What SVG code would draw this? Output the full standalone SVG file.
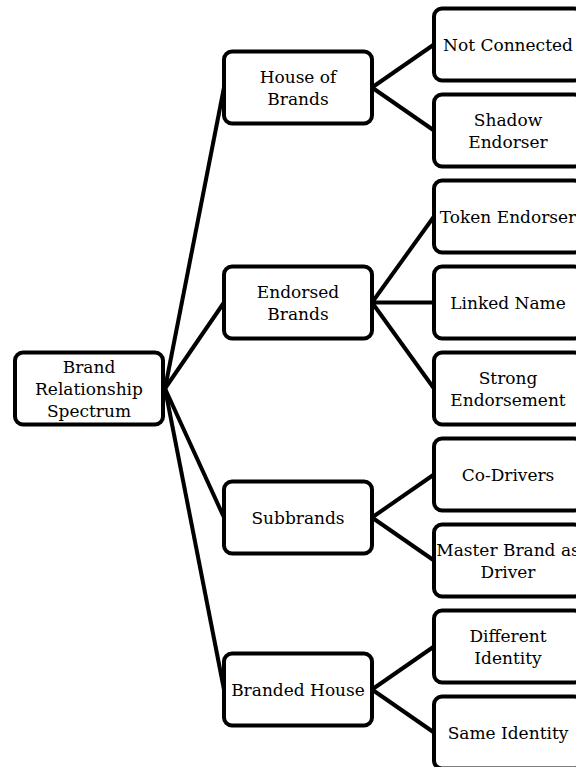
<svg xmlns="http://www.w3.org/2000/svg" width="576" height="767" viewBox="0 0 576 767">
<style>
.box{fill:#fff;stroke:#000;stroke-width:4}
.lbl{font-family:"DejaVu Serif","Liberation Serif",serif;font-size:17px;fill:#000;text-anchor:middle}
.edge{stroke:#000;stroke-width:4;fill:none}
</style>
<rect width="576" height="767" fill="#fff"/>
<g id="connectors">
<line class="edge" x1="165" y1="388.5" x2="224" y2="87.5"/>
<line class="edge" x1="165" y1="388.5" x2="224" y2="302.5"/>
<line class="edge" x1="165" y1="388.5" x2="224" y2="517.5"/>
<line class="edge" x1="165" y1="388.5" x2="224" y2="689.5"/>
<line class="edge" x1="372" y1="87.5" x2="434" y2="44.5"/>
<line class="edge" x1="372" y1="87.5" x2="434" y2="130.5"/>
<line class="edge" x1="372" y1="302.5" x2="434" y2="216.5"/>
<line class="edge" x1="372" y1="302.5" x2="434" y2="302.5"/>
<line class="edge" x1="372" y1="302.5" x2="434" y2="388.5"/>
<line class="edge" x1="372" y1="517.5" x2="434" y2="474.5"/>
<line class="edge" x1="372" y1="517.5" x2="434" y2="560.5"/>
<line class="edge" x1="372" y1="689.5" x2="434" y2="646.5"/>
<line class="edge" x1="372" y1="689.5" x2="434" y2="732.5"/>
</g>
<g id="root">
<rect class="box" x="15" y="352.5" width="148" height="72" rx="8"/>
<text class="lbl" x="89" y="372.5">Brand</text>
<text class="lbl" x="89" y="394.5">Relationship</text>
<text class="lbl" x="89" y="416.5">Spectrum</text>
</g>
<g id="house-of-brands">
<rect class="box" x="224" y="51.5" width="148" height="72" rx="8"/>
<text class="lbl" x="298" y="82.5">House of</text>
<text class="lbl" x="298" y="104.5">Brands</text>
</g>
<g id="endorsed-brands">
<rect class="box" x="224" y="266.5" width="148" height="72" rx="8"/>
<text class="lbl" x="298" y="297.5">Endorsed</text>
<text class="lbl" x="298" y="319.5">Brands</text>
</g>
<g id="subbrands">
<rect class="box" x="224" y="481.5" width="148" height="72" rx="8"/>
<text class="lbl" x="298" y="523.5">Subbrands</text>
</g>
<g id="branded-house">
<rect class="box" x="224" y="653.5" width="148" height="72" rx="8"/>
<text class="lbl" x="298" y="695.5">Branded House</text>
</g>
<g id="not-connected">
<rect class="box" x="434" y="8.5" width="148" height="72" rx="8"/>
<text class="lbl" x="508" y="50.5">Not Connected</text>
</g>
<g id="shadow-endorser">
<rect class="box" x="434" y="94.5" width="148" height="72" rx="8"/>
<text class="lbl" x="508" y="125.5">Shadow</text>
<text class="lbl" x="508" y="147.5">Endorser</text>
</g>
<g id="token-endorser">
<rect class="box" x="434" y="180.5" width="148" height="72" rx="8"/>
<text class="lbl" x="508" y="222.5">Token Endorser</text>
</g>
<g id="linked-name">
<rect class="box" x="434" y="266.5" width="148" height="72" rx="8"/>
<text class="lbl" x="508" y="308.5">Linked Name</text>
</g>
<g id="strong-endorsement">
<rect class="box" x="434" y="352.5" width="148" height="72" rx="8"/>
<text class="lbl" x="508" y="383.5">Strong</text>
<text class="lbl" x="508" y="405.5">Endorsement</text>
</g>
<g id="co-drivers">
<rect class="box" x="434" y="438.5" width="148" height="72" rx="8"/>
<text class="lbl" x="508" y="480.5">Co-Drivers</text>
</g>
<g id="master-brand-as-driver">
<rect class="box" x="434" y="524.5" width="148" height="72" rx="8"/>
<text class="lbl" x="508" y="555.5">Master Brand as</text>
<text class="lbl" x="508" y="577.5">Driver</text>
</g>
<g id="different-identity">
<rect class="box" x="434" y="610.5" width="148" height="72" rx="8"/>
<text class="lbl" x="508" y="641.5">Different</text>
<text class="lbl" x="508" y="663.5">Identity</text>
</g>
<g id="same-identity">
<rect class="box" x="434" y="696.5" width="148" height="72" rx="8"/>
<text class="lbl" x="508" y="738.5">Same Identity</text>
</g>
</svg>
